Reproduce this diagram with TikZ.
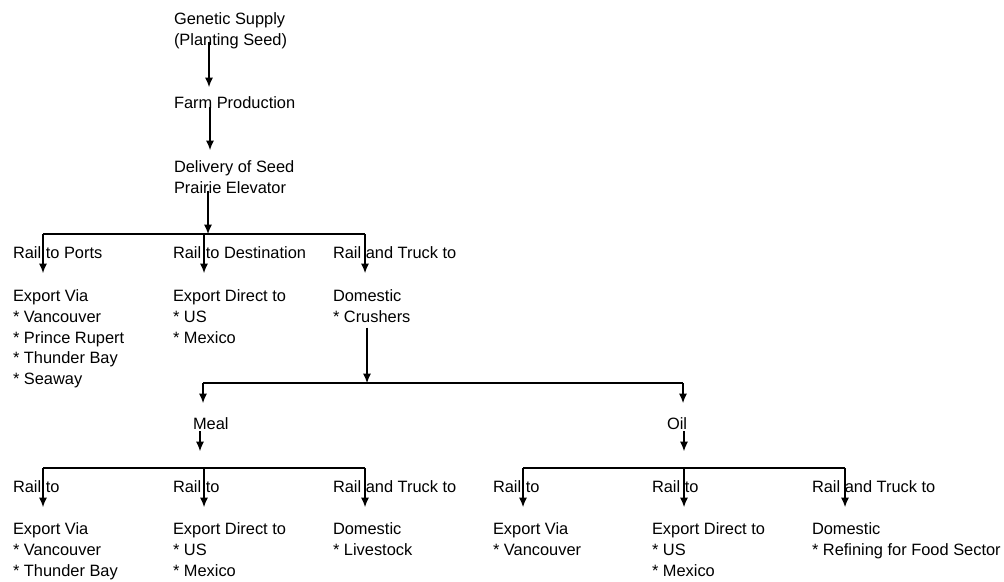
\documentclass[tikz,border=0pt]{standalone}
\usepackage{fontspec}
\setmainfont{Liberation Sans}
\usetikzlibrary{arrows.meta,calc}

\begin{document}
\begin{tikzpicture}[x=0.75pt,y=-0.75pt,
  every node/.style={inner sep=0pt,outer sep=0pt,anchor=north west,align=left,font=\fontsize{12.3}{15.45}\selectfont},
  >={Latex[length=7pt,width=6pt]}, line width=0.8pt]
\useasboundingbox (0,0) rectangle (1004,582);
% main chain
\node (gen) at (174,13) {Genetic Supply\\(Planting Seed)};
\node (farm) at (174,97) {Farm Production};
\node (deliv) at (174,161) {Delivery of Seed\\Prairie Elevator};
% first split
\node (rport) at (13,247) {Rail to Ports};
\node (rdest) at (173,247) {Rail to Destination};
\node (rtruck) at (333,247) {Rail and Truck to};
\node (exvia) at (13,290) {Export Via\\* Vancouver\\* Prince Rupert\\* Thunder Bay\\* Seaway};
\node (exdir) at (173,290) {Export Direct to\\* US\\* Mexico};
\node (domcr) at (333,290) {Domestic\\* Crushers};
% products
\node (meal) at (193,418) {Meal};
\node (oil) at (667,418) {Oil};
% meal branch
\node (mrail) at (13,481) {Rail to};
\node (mrdir) at (173,481) {Rail to};
\node (mtruck) at (333,481) {Rail and Truck to};
\node (mvia) at (13,523) {Export Via\\* Vancouver\\* Thunder Bay};
\node (mdir) at (173,523) {Export Direct to\\* US\\* Mexico};
\node (mdom) at (333,523) {Domestic\\* Livestock};
% oil branch
\node (orail) at (493,481) {Rail to};
\node (ordir) at (652,481) {Rail to};
\node (otruck) at (812,481) {Rail and Truck to};
\node (ovia) at (493,523) {Export Via\\* Vancouver};
\node (odir) at (652,523) {Export Direct to\\* US\\* Mexico};
\node (odom) at (812,523) {Domestic\\* Refining for Food Sector};

% chain arrows
\draw[->] ($(gen.south west)+(35,-7)$) -- ($(farm.north west)+(35,-10)$);
\draw[->] ($(farm.south west)+(36,-2)$) -- ($(deliv.north west)+(36,-11)$);
\coordinate (dstart) at ($(deliv.south west)+(34,-3)$);
\coordinate (busA) at ($(rport.north west)+(30,-13)$);
\draw[->] (dstart) -- (dstart |- busA);
\draw (busA) -- ($(rtruck.north west)+(32,-13)$);
\foreach \r/\t/\dx in {rport/exvia/30, rdest/exdir/31, rtruck/domcr/32}
  \draw[->] ($(\r.north west)+(\dx,-13)$) -- ($(\t.north west)+(\dx,-17)$);

% crushers to meal and oil
\coordinate (cstart) at ($(domcr.south west)+(34,5)$);
\coordinate (busB) at ($(meal.north west)+(10,-35)$);
\draw[->] (cstart) -- (cstart |- busB);
\draw (busB) -- ($(oil.north west)+(16,-35)$);
\draw[->] (busB) -- ($(meal.north west)+(10,-15)$);
\draw[->] ($(oil.north west)+(16,-35)$) -- ($(oil.north west)+(16,-15)$);
\draw[->] ($(meal.south west)+(7,1)$) -- ($(meal.south west)+(7,21)$);
\draw[->] ($(oil.south west)+(17,1)$) -- ($(oil.south west)+(17,21)$);

% meal and oil splits
\draw ($(mrail.north west)+(30,-13)$) -- ($(mtruck.north west)+(32,-13)$);
\draw ($(orail.north west)+(30,-13)$) -- ($(otruck.north west)+(33,-13)$);
\foreach \r/\t/\dx in {mrail/mvia/30, mrdir/mdir/31, mtruck/mdom/32,
                       orail/ovia/30, ordir/odir/32, otruck/odom/33}
  \draw[->] ($(\r.north west)+(\dx,-13)$) -- ($(\t.north west)+(\dx,-16)$);
\end{tikzpicture}
\end{document}
